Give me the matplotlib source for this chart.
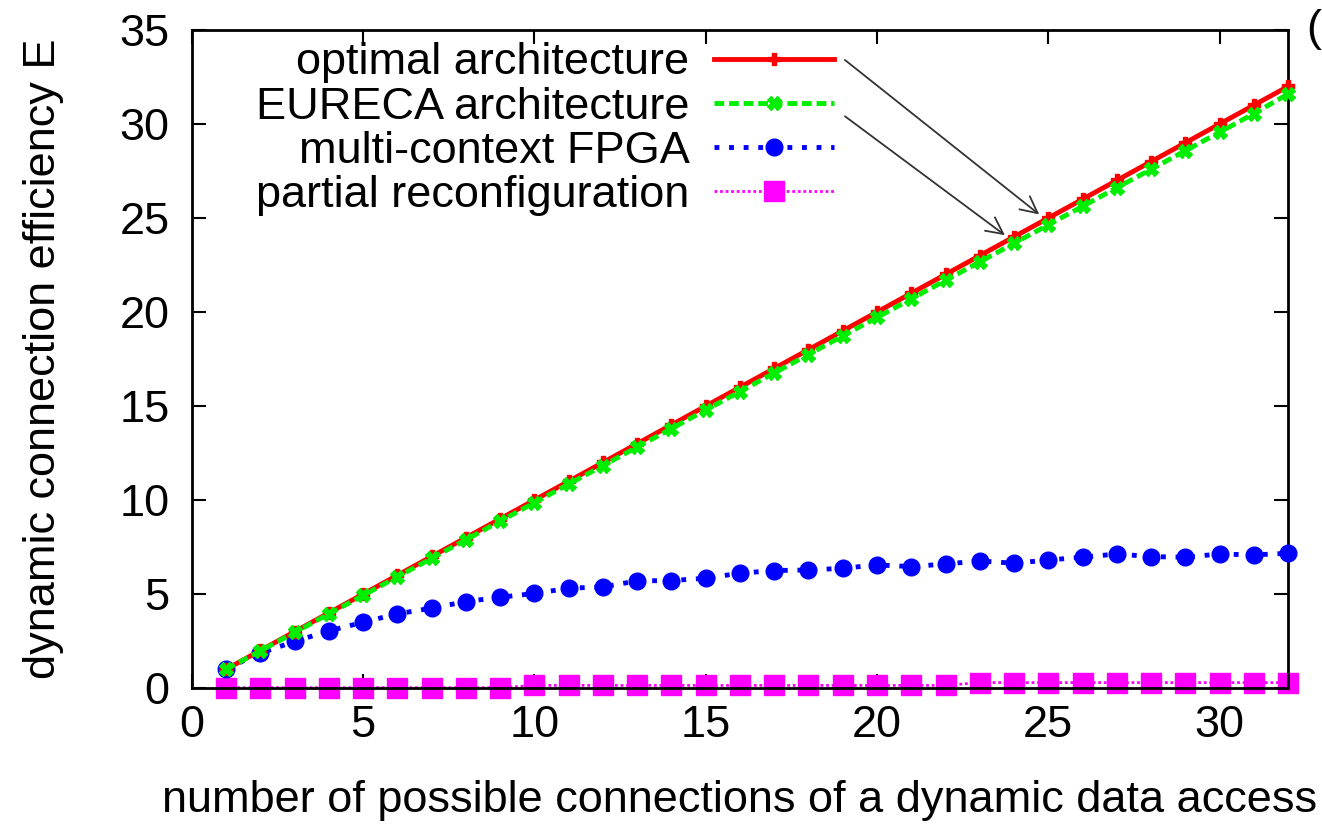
import matplotlib
matplotlib.use("Agg")
import matplotlib.pyplot as plt

x = list(range(1, 33))
optimal = [1, 2, 3, 4, 5, 6, 7, 8, 9, 10, 11, 12, 13, 14, 15, 16,
           17, 18, 19, 20, 21, 22, 23, 24, 25, 26, 27, 28, 29, 30, 31, 32]
eureca = [1.0, 1.98, 2.96, 3.95, 4.93, 5.92, 6.9, 7.89, 8.88, 9.86, 10.85,
          11.83, 12.82, 13.8, 14.79, 15.77, 16.76, 17.74, 18.73, 19.71, 20.7,
          21.68, 22.67, 23.65, 24.64, 25.62, 26.61, 27.59, 28.58, 29.56,
          30.55, 31.6]
multi_context = [1.03, 1.86, 2.48, 3.04, 3.5, 3.95, 4.25, 4.6, 4.83, 5.03,
                 5.31, 5.38, 5.7, 5.72, 5.84, 6.11, 6.25, 6.28, 6.37, 6.55,
                 6.46, 6.6, 6.76, 6.64, 6.81, 6.96, 7.13, 6.99, 6.96, 7.13,
                 7.08, 7.17]
partial = [0.02, 0.02, 0.02, 0.02, 0.02, 0.02, 0.02, 0.02, 0.02, 0.14,
           0.14, 0.14, 0.14, 0.14, 0.14, 0.14, 0.14, 0.14, 0.14, 0.14,
           0.14, 0.14, 0.29, 0.29, 0.29, 0.29, 0.29, 0.29, 0.29, 0.29,
           0.29, 0.29]
labels = ["optimal architecture", "EURECA architecture",
          "multi-context FPGA", "partial reconfiguration"]
xticks = [0, 5, 10, 15, 20, 25, 30]
yticks = [0, 5, 10, 15, 20, 25, 30, 35]

plt.rcParams['font.family'] = ['Liberation Sans', 'DejaVu Sans']
FS = 32.5

fig = plt.figure(figsize=(13.22, 8.25), dpi=100)
ax = fig.add_axes([0.1452, 0.166, 0.8291, 0.7976])

ax.plot(x, partial, color='#ff00ff', linestyle=(0, (1, 1)), linewidth=2,
        marker='s', markersize=14, label=labels[3], zorder=2, clip_on=False)
ax.plot(x, multi_context, color='#0000ff', linestyle=(0, (1, 2)), linewidth=3.5,
        marker='o', markersize=12, label=labels[2], zorder=3, clip_on=False)
ax.plot(x, optimal, color='#ff0000', linestyle='-', linewidth=3.5,
        marker='P', markersize=9, label=labels[0], zorder=4, clip_on=False)
ax.plot(x, eureca, color='#00ee00', linestyle=(0, (2, 1)), linewidth=3.5,
        marker='X', markersize=10, label=labels[1], zorder=5, clip_on=False)

ax.set_xlim(0, 32)
ax.set_ylim(0, 35)
ax.set_xticks(xticks)
ax.set_yticks(yticks)
ax.tick_params(direction='in', length=10, width=1.5, top=True, right=True,
               labelsize=FS)
ax.tick_params(axis='y', pad=16)
ax.tick_params(axis='x', pad=12)
for s in ax.spines.values():
    s.set_linewidth(2)

ax.set_xlabel("number of possible connections of a dynamic data access",
              fontsize=FS, labelpad=25)
ax.set_ylabel("dynamic connection efficiency E", fontsize=FS, labelpad=40)

handles, lbls = ax.get_legend_handles_labels()
order = [lbls.index(l) for l in labels]
leg = ax.legend([handles[i] for i in order], [lbls[i] for i in order],
                loc='upper left', bbox_to_anchor=(0.04, 1.012), frameon=False,
                markerfirst=False, fontsize=FS, handlelength=2.65,
                labelspacing=0.07, borderaxespad=0.05, handletextpad=0.55)
for t in leg.get_texts():
    t.set_ha('right')
leg._legend_box.align = "right"

ax.annotate("", xy=(24.8, 25.1), xytext=(19.0, 33.5),
            arrowprops=dict(arrowstyle='->', color='#333333', lw=1.3,
                            mutation_scale=30))
ax.annotate("", xy=(23.8, 24.0), xytext=(19.0, 30.5),
            arrowprops=dict(arrowstyle='->', color='#333333', lw=1.3,
                            mutation_scale=30))

fig.text(1306 / 1322, 1 - 30 / 825, "(", fontsize=FS, va='center', ha='left')

fig.savefig("out.png", dpi=100)
